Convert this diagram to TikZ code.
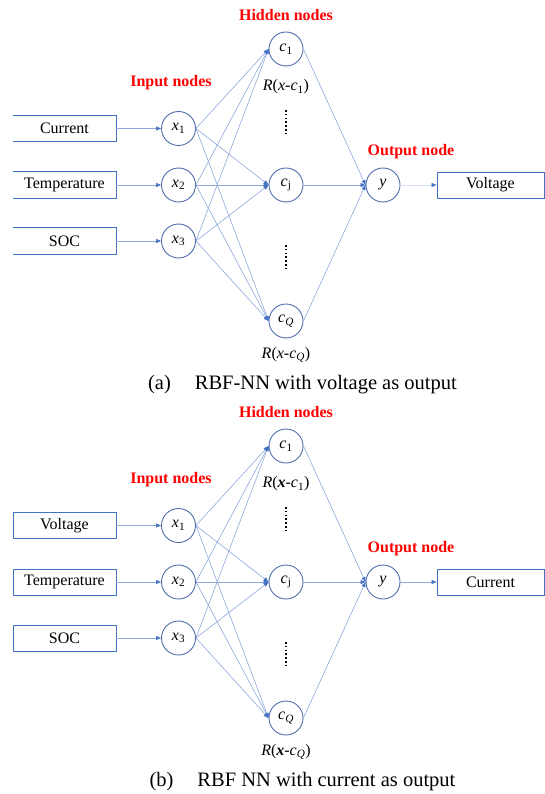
\documentclass[tikz,border=0pt]{standalone}
\usepackage{fontspec}
\setmainfont{LiberationSerif}[Extension=.ttf, UprightFont=*-Regular, BoldFont=*-Bold, ItalicFont=*-Italic, BoldItalicFont=*-BoldItalic]
\usetikzlibrary{arrows.meta}
\tikzset{every node/.style={font=\fontsize{16}{18}\selectfont}}
\definecolor{boxcol}{RGB}{68,114,196}
\definecolor{nodecol}{RGB}{78,108,172}
\definecolor{edgecol}{RGB}{140,168,220}
\definecolor{headcol}{RGB}{68,114,196}
\definecolor{titlecol}{RGB}{255,0,0}
\definecolor{faintcol}{RGB}{218,227,243}
\tikzset{
  neuron/.style={circle, draw=nodecol, line width=0.9pt, minimum size=34pt, inner sep=0pt},
  inbox/.style={draw=boxcol, line width=0.9pt, minimum width=103pt, minimum height=26pt, inner sep=0pt},
  link/.style={edgecol, line width=0.6pt, -{Triangle[length=5pt, width=4pt, color=headcol]}},
  title/.style={text=titlecol, font=\fontsize{16}{18}\selectfont\bfseries},
  dotcol/.style={line width=1.9pt, dash pattern=on 1.6pt off 2.2pt},
  caption/.style={font=\fontsize{20.5}{24}\selectfont}
}

\begin{document}
\begin{tikzpicture}[x=1pt, y=-1pt]

  \useasboundingbox (0,0) rectangle (545,794);

  % Panel (a): voltage as output.
  \begin{scope}

    % Input boxes (left side cut off).
    \node[inbox, draw=none] (a-in1) at (64.5,128.5) {Current};
    \node[inbox, draw=none] (a-in2) at (64.5,185) {Temperature};
    \node[inbox, draw=none] (a-in3) at (64.5,241) {SOC};
    \foreach \i in {1,2,3} {
      \draw[boxcol, line width=0.9pt] (a-in\i.north west) -- (a-in\i.north east)
        -- (a-in\i.south east) -- (a-in\i.south west);
    }

    % Input layer.
    \node[neuron] (a-x1) at (178.5,128.5) {\textit{x}\textsubscript{1}};
    \node[neuron] (a-x2) at (178.5,185) {\textit{x}\textsubscript{2}};
    \node[neuron] (a-x3) at (178.5,241) {\textit{x}\textsubscript{3}};

    % Hidden layer.
    \node[neuron] (a-c1) at (286,49) {\textit{c}\textsubscript{1}};
    \node[neuron] (a-cj) at (286,185) {\textit{c}\textsubscript{j}};
    \node[neuron] (a-cQ) at (286,321) {\textit{c}\textsubscript{\textit{Q}}};

    % Output layer.
    \node[neuron] (a-y) at (383,185) {\textit{y}};
    \node[inbox, minimum width=107pt] (a-out) at (490.5,185) {Voltage};

    % Layer titles.
    \node[title] (a-tin) at (171,83) {Input nodes};
    \node[title] (a-thid) at (286,15) {Hidden nodes};
    \node[title] (a-tout) at (411,152) {Output node};

    % Basis functions.
    \node (a-r1) at (286,87) {\textit{R}(\textit{x}-\textit{c}\textsubscript{1})};
    \node (a-rQ) at (286,355) {\textit{R}(\textit{x}-\textit{c}\textsubscript{\textit{Q}})};
    \draw[dotcol] (286,110) -- (286,136);
    \draw[dotcol] (286,245) -- (286,271);

    % Connections.
    \foreach \i in {1,2,3} {
      \draw[link] (a-in\i) -- (a-x\i);
      \foreach \h in {1,j,Q}
        \draw[link] (a-x\i.east) -- (a-c\h.west);
    }
    \foreach \h in {1,j,Q}
      \draw[link] (a-c\h.east) -- (a-y.west);
    \draw[link, faintcol] (a-y) -- (a-out);

    % Caption.
    \node[caption] (a-cap) at (302.5,385) {(a)\hspace{24pt}RBF-NN with voltage as output};

  \end{scope}

  % Panel (b): current as output.
  \begin{scope}[shift={(0,397)}]

    % Input boxes.
    \node[inbox] (b-in1) at (64.5,128.5) {Voltage};
    \node[inbox] (b-in2) at (64.5,185) {Temperature};
    \node[inbox] (b-in3) at (64.5,241) {SOC};

    % Input layer.
    \node[neuron] (b-x1) at (178.5,128.5) {\textit{x}\textsubscript{1}};
    \node[neuron] (b-x2) at (178.5,185) {\textit{x}\textsubscript{2}};
    \node[neuron] (b-x3) at (178.5,241) {\textit{x}\textsubscript{3}};

    % Hidden layer.
    \node[neuron] (b-c1) at (286,49) {\textit{c}\textsubscript{1}};
    \node[neuron] (b-cj) at (286,185) {\textit{c}\textsubscript{j}};
    \node[neuron] (b-cQ) at (286,321) {\textit{c}\textsubscript{\textit{Q}}};

    % Output layer.
    \node[neuron] (b-y) at (383,185) {\textit{y}};
    \node[inbox, minimum width=107pt] (b-out) at (490.5,185) {Current};

    % Layer titles.
    \node[title] (b-tin) at (171,83) {Input nodes};
    \node[title] (b-thid) at (286,15) {Hidden nodes};
    \node[title] (b-tout) at (411,152) {Output node};

    % Basis functions (bold x).
    \node (b-r1) at (286,87) {\textit{R}(\textbf{\textit{x}}-\textit{c}\textsubscript{1})};
    \node (b-rQ) at (286,355) {\textit{R}(\textbf{\textit{x}}-\textit{c}\textsubscript{\textit{Q}})};
    \draw[dotcol] (286,110) -- (286,136);
    \draw[dotcol] (286,245) -- (286,271);

    % Connections.
    \foreach \i in {1,2,3} {
      \draw[link] (b-in\i) -- (b-x\i);
      \foreach \h in {1,j,Q}
        \draw[link] (b-x\i.east) -- (b-c\h.west);
    }
    \foreach \h in {1,j,Q}
      \draw[link] (b-c\h.east) -- (b-y.west);
    \draw[link] (b-y) -- (b-out);

    % Caption.
    \node[caption] (b-cap) at (302.5,385) {(b)\hspace{24pt}RBF NN with current as output};

  \end{scope}

\end{tikzpicture}
\end{document}
